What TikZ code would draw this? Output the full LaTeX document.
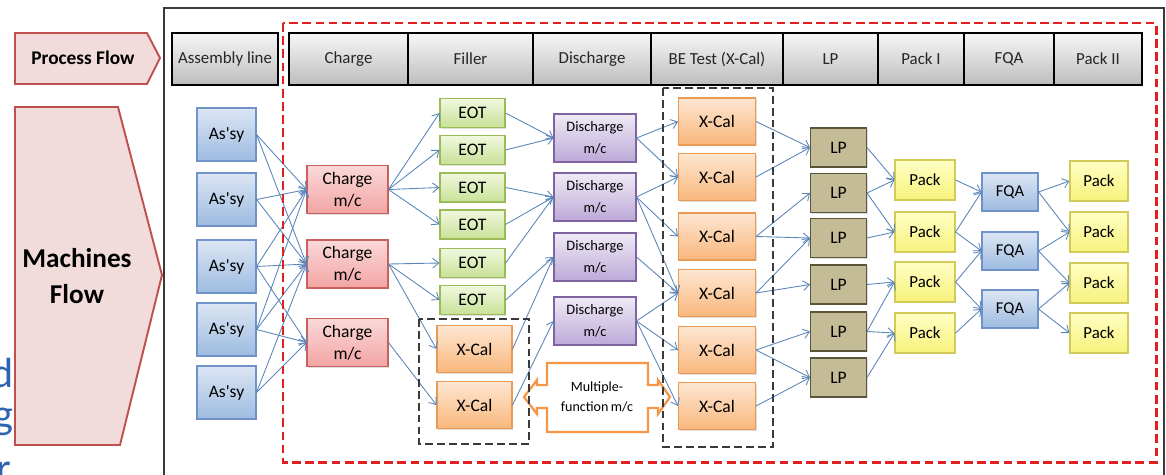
\documentclass[tikz,border=0pt]{standalone}
\usepackage{fontspec}
\setmainfont{Carlito}
\usetikzlibrary{arrows.meta,shadows}

\definecolor{linkblue}{HTML}{5B86B8}
\definecolor{asytop}{HTML}{DCE6F4}
\definecolor{asybot}{HTML}{9DBBE0}
\definecolor{asyline}{HTML}{6F93C8}
\definecolor{chgtop}{HTML}{FBD8D8}
\definecolor{chgbot}{HTML}{F2A5A4}
\definecolor{chgline}{HTML}{C8605D}
\definecolor{eottop}{HTML}{F1F8DF}
\definecolor{eotbot}{HTML}{C8E196}
\definecolor{eotline}{HTML}{9BBB59}
\definecolor{distop}{HTML}{EFEAF5}
\definecolor{disbot}{HTML}{BCA9D8}
\definecolor{disline}{HTML}{8064A2}
\definecolor{xcltop}{HTML}{FDE6D2}
\definecolor{xclbot}{HTML}{F9B77C}
\definecolor{xclline}{HTML}{E99A55}
\definecolor{lpfill}{HTML}{C4BC96}
\definecolor{lpline}{HTML}{5A5538}
\definecolor{pktop}{HTML}{FFFFC4}
\definecolor{pkbot}{HTML}{F7F27C}
\definecolor{pkline}{HTML}{D3CA5C}
\definecolor{hdrtop}{HTML}{F7F7F7}
\definecolor{hdrbot}{HTML}{BDBDBD}
\definecolor{tagfill}{HTML}{F2DCDB}
\definecolor{tagline}{HTML}{C0504D}
\definecolor{mfline}{HTML}{F79646}
\definecolor{reddash}{HTML}{E02020}
\definecolor{grpgray}{HTML}{3A3A3A}
\definecolor{cutblue}{HTML}{2E63B0}

\tikzset{
  mbox/.style={draw, line width=.6pt, align=center, inner sep=1pt,
    font=\fontsize{10}{12.3}\selectfont,
    drop shadow={opacity=.25, shadow xshift=.8pt, shadow yshift=-.8pt}},
  asybox/.style={mbox, draw=asyline, top color=asytop, bottom color=asybot,
    minimum width=1.18cm, minimum height=1.06cm},
  chgbox/.style={mbox, draw=chgline, top color=chgtop, bottom color=chgbot,
    minimum width=1.62cm, minimum height=.96cm},
  eotbox/.style={mbox, draw=eotline, top color=eottop, bottom color=eotbot,
    minimum width=1.30cm, minimum height=.58cm},
  disbox/.style={mbox, draw=disline, top color=distop, bottom color=disbot,
    minimum width=1.64cm, minimum height=.96cm, font=\fontsize{8.2}{12.3}\selectfont},
  xclbox/.style={mbox, draw=xclline, top color=xcltop, bottom color=xclbot,
    minimum height=.94cm},
  lpbox/.style={mbox, draw=lpline, fill=lpfill, minimum width=1.12cm, minimum height=.78cm},
  packbox/.style={mbox, draw=pkline, top color=pktop, bottom color=pkbot,
    minimum height=.8cm, font=\fontsize{9.6}{11}\selectfont},
  fqabox/.style={mbox, draw=asyline, top color=asytop, bottom color=asybot,
    minimum width=1.12cm, minimum height=.76cm, font=\fontsize{9.4}{11}\selectfont},
  hdrbox/.style={draw=black, line width=.6pt, top color=hdrtop, bottom color=hdrbot,
    minimum height=1.04cm, inner sep=1pt, font=\fontsize{9.6}{11}\selectfont, text=black!85},
  flowtag/.style={draw=tagline, line width=1.1pt, fill=tagfill},
  link/.style={draw=linkblue, line width=.5pt, -{Straight Barb[length=3.5pt,width=5.5pt]}},
  grpdash/.style={draw=grpgray, line width=1.2pt, dash pattern=on 4.5pt off 2.3pt},
}

\begin{document}
\begin{tikzpicture}[x=0.02cm, y=-0.02cm]
  \useasboundingbox (0,0) rectangle (1166,474);

    %----------------------------------------------------------
    % Frame, cut text and the two flow tags
    %----------------------------------------------------------
  \draw[grpgray, line width=1pt] (164,8) rectangle (1164,490);

  \node[text=cutblue, font=\fontsize{24}{24}\selectfont, anchor=base east, inner sep=0pt] (cutd) at (14,387) {d};
  \node[text=cutblue, font=\fontsize{24}{24}\selectfont, anchor=base east, inner sep=0pt] (cutg) at (14,428) {g};
  \node[text=cutblue, font=\fontsize{24}{24}\selectfont, anchor=base east, inner sep=0pt] (cutr) at (12,482) {r};

  \draw[flowtag] (15,33) -- (147,33) -- (160,58) -- (147,84) -- (15,84) -- cycle;
  \node[font=\bfseries\fontsize{11}{13}\selectfont] (procflow) at (83,58) {Process Flow};

  \draw[flowtag] (15,107) -- (118,107) -- (162,275) -- (120,445) -- (15,445) -- cycle;
  \node[font=\bfseries\fontsize{15.5}{21}\selectfont, align=center] (machflow) at (77,276) {Machines\\Flow};

    %----------------------------------------------------------
    % Process headers
    %----------------------------------------------------------
  \foreach \x/\w/\t [count=\i] in {225/2.12/Assembly line, 348.5/2.38/Charge,
      470.5/2.5/Filler, 592/2.36/Discharge, 717/2.64/BE Test (X-Cal),
      830.5/1.9/LP, 921/1.72/Pack I, 1009/1.8/FQA, 1098/1.76/Pack II}
    \node[hdrbox, minimum width=\w cm] (h\i) at (\x,59) {\t};

    %----------------------------------------------------------
    % Machines
    %----------------------------------------------------------
  \foreach \y [count=\i] in {134.5,199.5,266.5,329.5,392.5}
    \node[asybox] (a\i) at (226.5,\y) {As\textquotesingle sy};
  \foreach \y [count=\i] in {189.5,264,342.5}
    \node[chgbox] (c\i) at (347.5,\y) {Charge\\m/c};
  \foreach \y [count=\i] in {113,150,187.5,224.5,263,300}
    \node[eotbox] (e\i) at (472.5,\y) {EOT};
  \foreach \y [count=\i] in {349,405}
    \node[xclbox, minimum width=1.5cm] (f\i) at (474.5,\y) {X-Cal};
  \foreach \y [count=\i] in {138,197,257,321}
    \node[disbox] (d\i) at (595,\y) {Discharge\\m/c};
  \foreach \y [count=\i] in {121.5,177,236.5,293,350,406}
    \node[xclbox, minimum width=1.54cm] (x\i) at (717,\y) {X-Cal};
  \foreach \y [count=\i] in {147.5,193,238,284.5,331.5,377.5}
    \node[lpbox] (l\i) at (838.5,\y) {LP};
  \foreach \y [count=\i] in {180,232,282,333}
    \node[packbox, minimum width=1.2cm] (p\i) at (925,\y) {Pack};
  \foreach \y [count=\i] in {192,251,309}
    \node[fqabox] (q\i) at (1010,\y) {FQA};
  \foreach \y [count=\i] in {181,232,283,333}
    \node[packbox, minimum width=1.16cm] (r\i) at (1099,\y) {Pack};

    %----------------------------------------------------------
    % Links between machines
    %----------------------------------------------------------
  \foreach \s/\t in {a1/c1, a1/c2, a2/c1, a2/c2, a3/c1, a3/c2, a3/c3,
      a4/c1, a4/c2, a4/c3, a5/c2, a5/c3,
      c1/e1, c1/e2, c1/e3, c1/e4, c2/e5, c2/e6, c2/f1, c3/f2,
      e1/d1, e2/d1, e3/d2, e4/d2, e5/d2, e6/d3, f1/d3, f2/d4,
      d1/x1, d1/x2, d2/x2, d2/x3, d2/x4, d3/x4, d4/x4, d4/x5, d4/x6,
      x1/l1, x2/l1, x3/l2, x3/l3, x4/l3, x4/l4, x5/l5, x5/l6, x6/l6,
      l1/p1, l2/p1, l2/p2, l3/p2, l4/p3, l5/p3, l5/p4, l6/p4,
      p1/q1, p2/q1, p2/q2, p3/q2, p3/q3, p4/q3,
      q1/r1, q1/r2, q2/r2, q2/r3, q3/r3, q3/r4}
    \draw[link] (\s.east) -- (\t.west);

    %----------------------------------------------------------
    % Multiple-function m/c and dashed groups
    %----------------------------------------------------------
  \draw[draw=mfline, line width=1.3pt, fill=white]
    (547,363) -- (648,363) -- (648,385) -- (658,385) -- (658,380) -- (670,397)
    -- (658,414) -- (658,408) -- (648,408) -- (648,432) -- (547,432)
    -- (547,408) -- (537,408) -- (537,414) -- (524,397) -- (537,380)
    -- (537,385) -- (547,385) -- cycle;
  \node[font=\fontsize{8}{11}\selectfont, align=center] (multi) at (597,397) {Multiple-\\function\,m/c};

  \draw[grpdash] (419,319) rectangle (529,444);
  \draw[grpdash] (663,88) rectangle (773,447);

  \draw[reddash, line width=1.7pt, dash pattern=on 5pt off 2.5pt] (283,23) rectangle (1156,462);
\end{tikzpicture}
\end{document}
